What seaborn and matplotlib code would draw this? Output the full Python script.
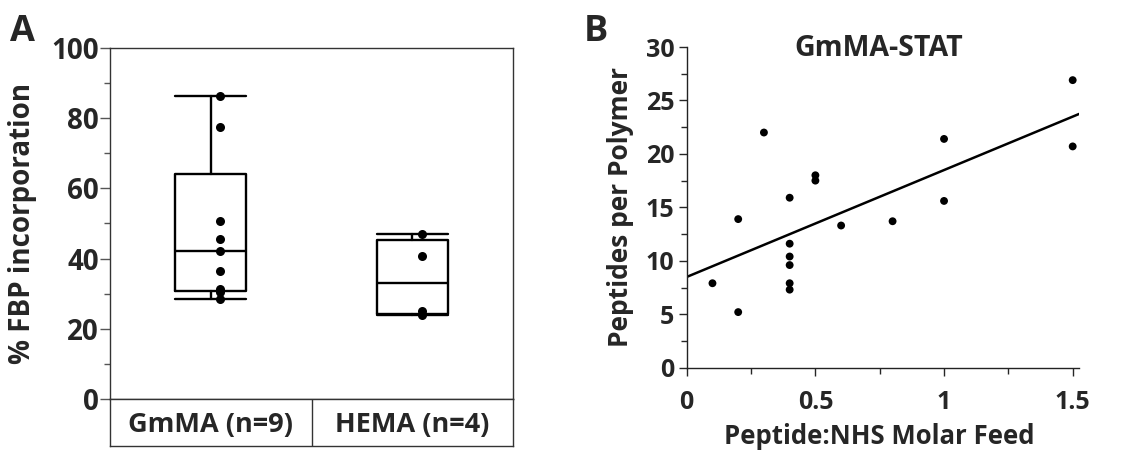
import numpy as np
import pandas as pd
import matplotlib
matplotlib.use("Agg")
import matplotlib.pyplot as plt
import matplotlib.transforms as mtransforms
from matplotlib.ticker import MultipleLocator
import seaborn as sns

# ---------------- data ----------------
groups = ["GmMA (n=9)", "HEMA (n=4)"]
gmma_vals = [86.3, 77.4, 50.7, 45.5, 42.3, 36.5, 31.2, 30.4, 28.6]
hema_vals = [46.9, 40.7, 25.2, 23.9]

feed = [0.1, 0.2, 0.2, 0.3, 0.4, 0.4, 0.4, 0.4, 0.4, 0.4,
        0.5, 0.5, 0.6, 0.8, 1.0, 1.0, 1.5, 1.5]
peptides = [7.9, 13.9, 5.2, 22.0, 15.9, 11.6, 10.4, 9.6, 7.9, 7.3,
            18.0, 17.5, 13.3, 13.7, 21.4, 15.6, 26.9, 20.7]

sns.set_theme(style="ticks")
FONT = ["Open Sans", "DejaVu Sans"]
plt.rcParams["font.family"] = FONT
plt.rcParams["font.weight"] = "bold"

fig = plt.figure(figsize=(11.4, 4.55), dpi=100)

# ---------------- Panel A ----------------
axA = fig.add_axes([0.0965, 0.1231, 0.3535, 0.7714])
dfA = pd.DataFrame({
    "group": [groups[0]] * len(gmma_vals) + [groups[1]] * len(hema_vals),
    "value": gmma_vals + hema_vals,
})

stats = []
for g, vals in zip(groups, [gmma_vals, hema_vals]):
    v = np.asarray(vals)
    q1, med, q3 = np.percentile(v, [25, 50, 75], method="weibull")
    iqr = q3 - q1
    lo = v[v >= q1 - 1.5 * iqr].min()
    hi = v[v <= q3 + 1.5 * iqr].max()
    stats.append(dict(label=g, med=med, q1=q1, q3=q3, whislo=lo, whishi=hi, fliers=[]))

lw = 1.7
axA.bxp(stats, positions=[0, 1], widths=0.35, showfliers=False, patch_artist=False,
        boxprops=dict(color="black", linewidth=lw),
        medianprops=dict(color="black", linewidth=lw),
        whiskerprops=dict(color="black", linewidth=lw),
        capprops=dict(color="black", linewidth=lw),
        capwidths=0.35, manage_ticks=False)

sns.stripplot(data=dfA, x="group", y="value", order=groups, jitter=False,
              color="black", size=6.5, ax=axA, zorder=5)
off = mtransforms.ScaledTranslation(0.095, 0, fig.dpi_scale_trans)
for coll in axA.collections:
    coll.set_offset_transform(axA.transData + off)

axA.set_xlim(-0.5, 1.5)
axA.set_ylim(0, 100)
axA.set_xticks([])
axA.set_xlabel("")
axA.yaxis.set_major_locator(MultipleLocator(20))
axA.yaxis.set_minor_locator(MultipleLocator(10))
axA.tick_params(axis="y", which="major", length=7, width=1.0, pad=1,
                labelsize=20, color="#555555")
axA.tick_params(axis="y", which="minor", length=4, width=1.0, color="#555555")
for lab in axA.get_yticklabels():
    lab.set_fontweight("bold")
axA.set_ylabel("% FBP incorporation", fontsize=20, fontweight="bold")
axA.yaxis.set_label_coords(-0.182, 0.5)
for s in axA.spines.values():
    s.set_linewidth(1.0)
    s.set_color("#333333")

# category label box
axC = fig.add_axes([0.0965, 0.0198, 0.3535, 0.1033])
axC.set_xlim(-0.5, 1.5)
axC.set_ylim(0, 1)
axC.set_xticks([])
axC.set_yticks([])
axC.axvline(0.5, color="#333333", linewidth=1.0)
for s in axC.spines.values():
    s.set_linewidth(1.0)
    s.set_color("#333333")
for i, g in enumerate(groups):
    axC.text(i, 0.45, g, ha="center", va="center", fontsize=19.5, fontweight="bold")

fig.text(0.009, 0.93, "A", fontsize=26, fontweight="bold", ha="left", va="center")

# ---------------- Panel B ----------------
axB = fig.add_axes([0.6024, 0.1919, 0.3442, 0.7048])
axB.set_xlim(0, 1.525)
axB.set_ylim(0, 30)
sns.regplot(x=feed, y=peptides, ci=None, truncate=False, ax=axB,
            scatter_kws=dict(color="black", s=32, edgecolor="none", alpha=1),
            line_kws=dict(color="black", linewidth=1.8))
axB.set_xlim(0, 1.525)
axB.set_ylim(0, 30)
sns.despine(ax=axB)
axB.xaxis.set_minor_locator(MultipleLocator(0.25))
axB.yaxis.set_major_locator(MultipleLocator(5))
axB.yaxis.set_minor_locator(MultipleLocator(2.5))
axB.set_xticks([0, 0.5, 1, 1.5])
axB.set_xticklabels(["0", "0.5", "1", "1.5"])
axB.tick_params(axis="both", which="major", length=6, width=1.0, labelsize=18)
axB.tick_params(axis="x", which="major", pad=10)
axB.tick_params(axis="y", which="major", pad=3)
axB.tick_params(axis="both", which="minor", length=4, width=1.0)
for lab in axB.get_xticklabels() + axB.get_yticklabels():
    lab.set_fontweight("bold")
for s in axB.spines.values():
    s.set_linewidth(1.0)
    s.set_color("#222222")
axB.set_xlabel("Peptide:NHS Molar Feed", fontsize=18.5, fontweight="bold")
axB.xaxis.set_label_coords(0.49, -0.172)
axB.set_ylabel("Peptides per Polymer", fontsize=19, fontweight="bold")
axB.yaxis.set_label_coords(-0.135, 0.5)
axB.text(0.49, 0.995, "GmMA-STAT", transform=axB.transAxes, ha="center", va="center",
         fontsize=20.5, fontweight="bold")

fig.text(0.512, 0.93, "B", fontsize=26, fontweight="bold", ha="left", va="center")

fig.savefig("out.png", dpi=100)
